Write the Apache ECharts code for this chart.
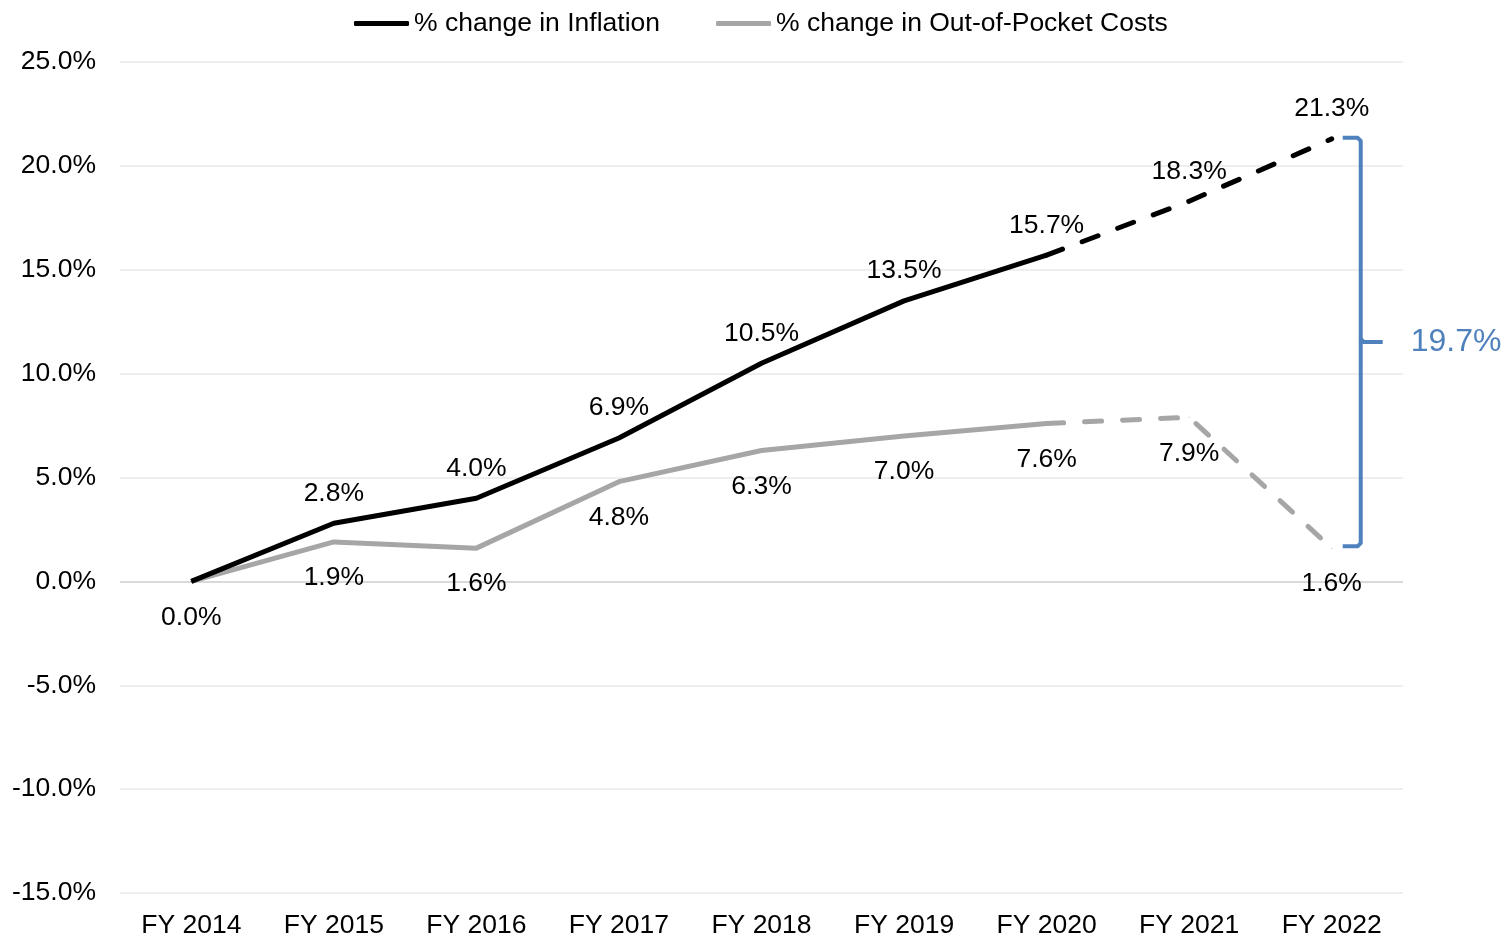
<!DOCTYPE html>
<html>
<head>
<meta charset="utf-8">
<script src="https://cdn.jsdelivr.net/npm/echarts@6/dist/echarts.min.js"></script>
<style>html,body{margin:0;padding:0;background:#fff;}#c{width:1509px;height:944px;}</style>
</head>
<body>
<div id="c"></div>
<script>
const categories = ['FY 2014','FY 2015','FY 2016','FY 2017','FY 2018','FY 2019','FY 2020','FY 2021','FY 2022'];
const inflation = [0.0, 2.8, 4.0, 6.9, 10.5, 13.5, 15.7, 18.3, 21.3];
const outOfPocket = [0.0, 1.9, 1.6, 4.8, 6.3, 7.0, 7.6, 7.9, 1.6];
const inflationLabelPos = ['bottom','top','top','top','top','top','top','top','top'];
const oopLabelShow = [false, true, true, true, true, true, true, true, true];
const lastActualIndex = 6; // FY 2020; later years dashed (projected)
const yTicks = [-15, -10, -5, 0, 5, 10, 15, 20, 25];
const seriesNames = ['% change in Inflation', '% change in Out-of-Pocket Costs'];
const gapValue = +(inflation[8] - outOfPocket[8]).toFixed(1);

const FONT = 'Liberation Sans, Arial, sans-serif';
const FS = 26.5;
const BLACK = '#000000';
const GREY = '#A6A6A6';
const BLUE = '#4F81BD';

function buildData(values, part, labelFor) {
  return values.map((v, i) => {
    const inPart = part === 'solid' ? i <= lastActualIndex : i >= lastActualIndex;
    if (!inPart) return null;
    const showLabel = part === 'solid' ? true : i > lastActualIndex;
    const lab = labelFor(i);
    return { value: v, label: { show: showLabel && lab.show, position: lab.pos, distance: lab.pos === 'top' ? 16 : 22 } };
  });
}
const infLab = i => ({ show: true, pos: inflationLabelPos[i] });
const oopLab = i => ({ show: oopLabelShow[i], pos: 'bottom' });

const labelStyle = { color: '#000', fontSize: FS, fontFamily: FONT, formatter: p => p.value.toFixed(1) + '%' };

function lineSeries(name, color, values, part, labFn, z) {
  return {
    name: name, type: 'line', data: buildData(values, part, labFn),
    symbol: 'circle', symbolSize: 1, showSymbol: true,
    itemStyle: { color: color },
    lineStyle: { color: color, width: 5, type: part === 'solid' ? 'solid' : [17, 21], cap: part === 'solid' ? 'butt' : 'round', join: 'round' },
    label: labelStyle, connectNulls: false, z: z, animation: false,
    emphasis: { disabled: true }
  };
}

const chart = echarts.init(document.getElementById('c'));
const gridLineColors = yTicks.map(t => t === 0 ? '#D9D9D9' : '#EEEEEE');
chart.setOption({
  animation: false,
  backgroundColor: '#fff',
  legend: {
    data: seriesNames, top: 5, left: 349, itemWidth: 55, itemHeight: 5, itemGap: 56,
    icon: 'roundRect',
    textStyle: { fontSize: FS, fontFamily: FONT, color: '#000' }
  },
  grid: { left: 120, right: 106, top: 62, bottom: 51, containLabel: false },
  xAxis: {
    type: 'category', data: categories, boundaryGap: true,
    axisLine: { show: false }, axisTick: { show: false },
    axisLabel: { fontSize: FS, fontFamily: FONT, color: '#000', margin: 19 }
  },
  yAxis: {
    type: 'value', min: -15, max: 25, interval: 5,
    axisLine: { show: false }, axisTick: { show: false },
    axisLabel: { fontSize: FS, fontFamily: FONT, color: '#000', margin: 24, lineHeight: 30, padding: [7, 0, 0, 0], formatter: v => v.toFixed(1) + '%' },
    splitLine: { show: true, lineStyle: { color: gridLineColors, width: 2 } }
  },
  series: [
    lineSeries(seriesNames[0], BLACK, inflation, 'solid', infLab, 4),
    lineSeries(seriesNames[1], GREY, outOfPocket, 'solid', oopLab, 3),
    lineSeries(seriesNames[0], BLACK, inflation, 'dashed', infLab, 4),
    lineSeries(seriesNames[1], GREY, outOfPocket, 'dashed', oopLab, 3)
  ]
});

const last = categories.length - 1;
const pTop = chart.convertToPixel({ gridIndex: 0 }, [last, inflation[last]]);
const pBot = chart.convertToPixel({ gridIndex: 0 }, [last, outOfPocket[last]]);
const bx = pTop[0] + 29;
const t = pTop[1] - 1;
const b = pBot[1] - 2;
const m = (t + b) / 2;
chart.setOption({
  graphic: [
    { type: 'polyline', shape: { points: [[bx - 18, t], [bx - 3, t], [bx, t + 3], [bx, b - 3], [bx - 3, b], [bx - 18, b]] },
      style: { stroke: BLUE, lineWidth: 4, fill: null, lineJoin: 'round' }, z: 10 },
    { type: 'polyline', shape: { points: [[bx, m - 3], [bx + 3, m], [bx + 22, m]] },
      style: { stroke: BLUE, lineWidth: 4, fill: null, lineJoin: 'round' }, z: 10 },
    { type: 'text', x: bx + 50, y: m, style: { text: gapValue.toFixed(1) + '%', fill: BLUE, fontSize: 32, fontFamily: FONT, textVerticalAlign: 'middle', verticalAlign: 'middle' }, z: 10 }
  ]
});
</script>
</body>
</html>
